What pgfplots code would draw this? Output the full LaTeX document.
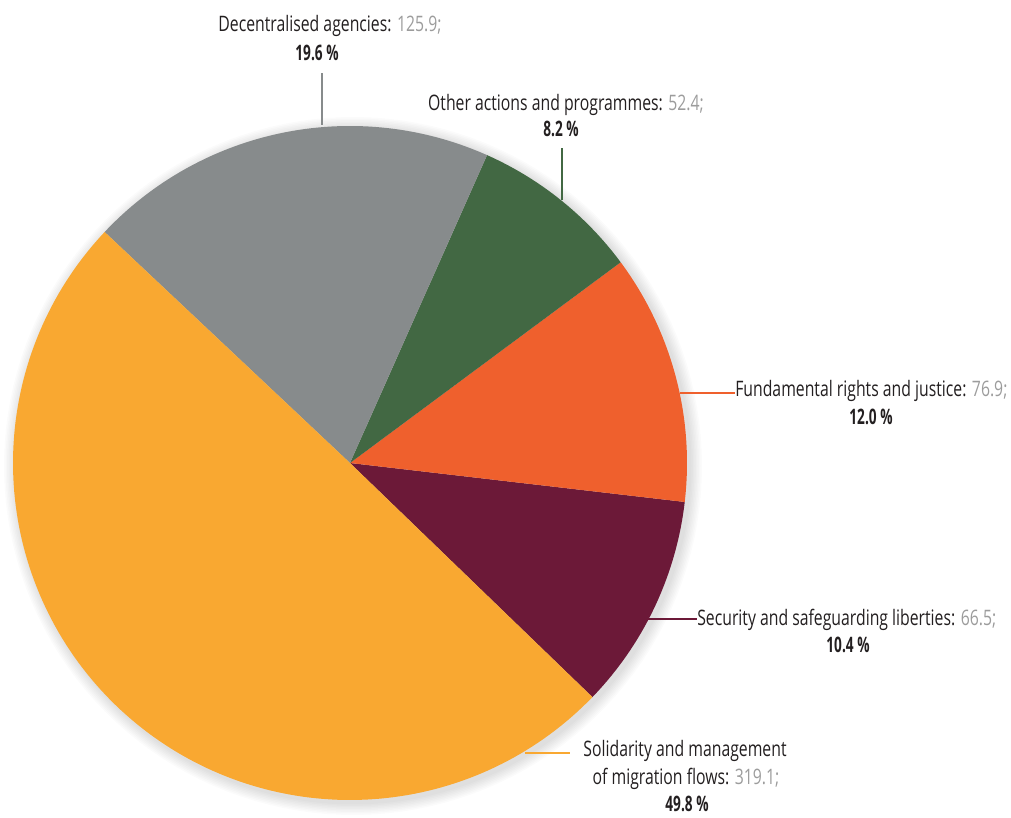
\documentclass[border=0pt]{standalone}
\usepackage{pgfplots}
\pgfplotsset{compat=1.18}
\usepackage{fontspec}
\setmainfont[FakeStretch=0.74, BoldFeatures={FakeStretch=0.64}]{Open Sans}
\definecolor{cSol}{HTML}{F9A831}
\definecolor{cDec}{HTML}{878B8C}
\definecolor{cOth}{HTML}{426843}
\definecolor{cFun}{HTML}{EF602D}
\definecolor{cSec}{HTML}{6C1938}
\definecolor{cNum}{HTML}{9C9C9C}
\definecolor{cTxt}{HTML}{231F20}
% slice values (EUR bn)
\def\vSec{66.5}\def\vFun{76.9}\def\vOth{52.4}\def\vDec{125.9}\def\vSol{319.1}
\pgfmathsetmacro\tot{\vSec+\vFun+\vOth+\vDec+\vSol}
\pgfmathsetmacro\k{360/\tot}
\pgfmathsetmacro\aA{-44}
\pgfmathsetmacro\aB{\aA+\k*\vSec}
\pgfmathsetmacro\aC{\aB+\k*\vFun}
\pgfmathsetmacro\aD{\aC+\k*\vOth}
\pgfmathsetmacro\aE{\aD+\k*\vDec}
\pgfmathsetmacro\aF{\aE+\k*\vSol}
\newcommand\slice[3]{\addplot[fill=#3, draw=none, domain=#1:#2, samples=150] ({350+337*cos(x)},{355+337*sin(x)}) -- (axis cs:350,355) -- cycle;}
\tikzset{lbl/.style={font=\fontsize{16}{19}\selectfont, text=cTxt}}
\begin{document}
\begin{tikzpicture}
\begin{axis}[x=0.75pt, y=0.75pt, xmin=0, xmax=1011, ymin=0, ymax=818, hide axis, clip=false,
  anchor=origin, at={(0pt,0pt)}]
\pgfplotsinvokeforeach{1,...,8}{
 \addplot[draw=none, fill=black, fill opacity=0.015, domain=0:360, samples=150] ({353+(337+#1*1.5)*cos(x)},{352+(337+#1*1.5)*sin(x)}) -- cycle;
}
\slice{\aA}{\aB}{cSec}
\slice{\aB}{\aC}{cFun}
\slice{\aC}{\aD}{cOth}
\slice{\aD}{\aE}{cDec}
\slice{\aE}{\aF}{cSol}
% leader lines
\draw[cDec, line width=2.2pt] (axis cs:322,693) -- (axis cs:322,745);
\draw[cOth, line width=2.2pt] (axis cs:562,618) -- (axis cs:562,670);
\draw[cFun, line width=2.2pt] (axis cs:680,425) -- (axis cs:735,425);
\draw[cSec, line width=2.2pt] (axis cs:648,199) -- (axis cs:697,199);
\draw[cSol, line width=2.2pt] (axis cs:525,65) -- (axis cs:570,65);
% labels
\node[lbl, anchor=base] at (axis cs:330,786) {Decentralised agencies: \textcolor{cNum}{125.9;}};
\node[lbl, anchor=base] at (axis cs:317,757) {\bfseries 19.6\,\%};
\node[lbl, anchor=base] at (axis cs:566,707) {Other actions and programmes: \textcolor{cNum}{52.4;}};
\node[lbl, anchor=base] at (axis cs:561,681) {\bfseries 8.2\,\%};
\node[lbl, anchor=base west, inner sep=0pt] at (axis cs:735,421) {Fundamental rights and justice: \textcolor{cNum}{76.9;}};
\node[lbl, anchor=base] at (axis cs:871,393) {\bfseries 12.0\,\%};
\node[lbl, anchor=base west, inner sep=0pt] at (axis cs:697,192) {Security and safeguarding liberties: \textcolor{cNum}{66.5;}};
\node[lbl, anchor=base] at (axis cs:848,165) {\bfseries 10.4\,\%};
\node[lbl, anchor=base] at (axis cs:685,61) {Solidarity and management};
\node[lbl, anchor=base] at (axis cs:686,33) {of migration flows: \textcolor{cNum}{319.1;}};
\node[lbl, anchor=base] at (axis cs:687,6) {\bfseries 49.8\,\%};
\end{axis}
\pgfresetboundingbox
\path (0pt,0pt) rectangle (758.25pt,613.5pt);
\end{tikzpicture}
\end{document}
